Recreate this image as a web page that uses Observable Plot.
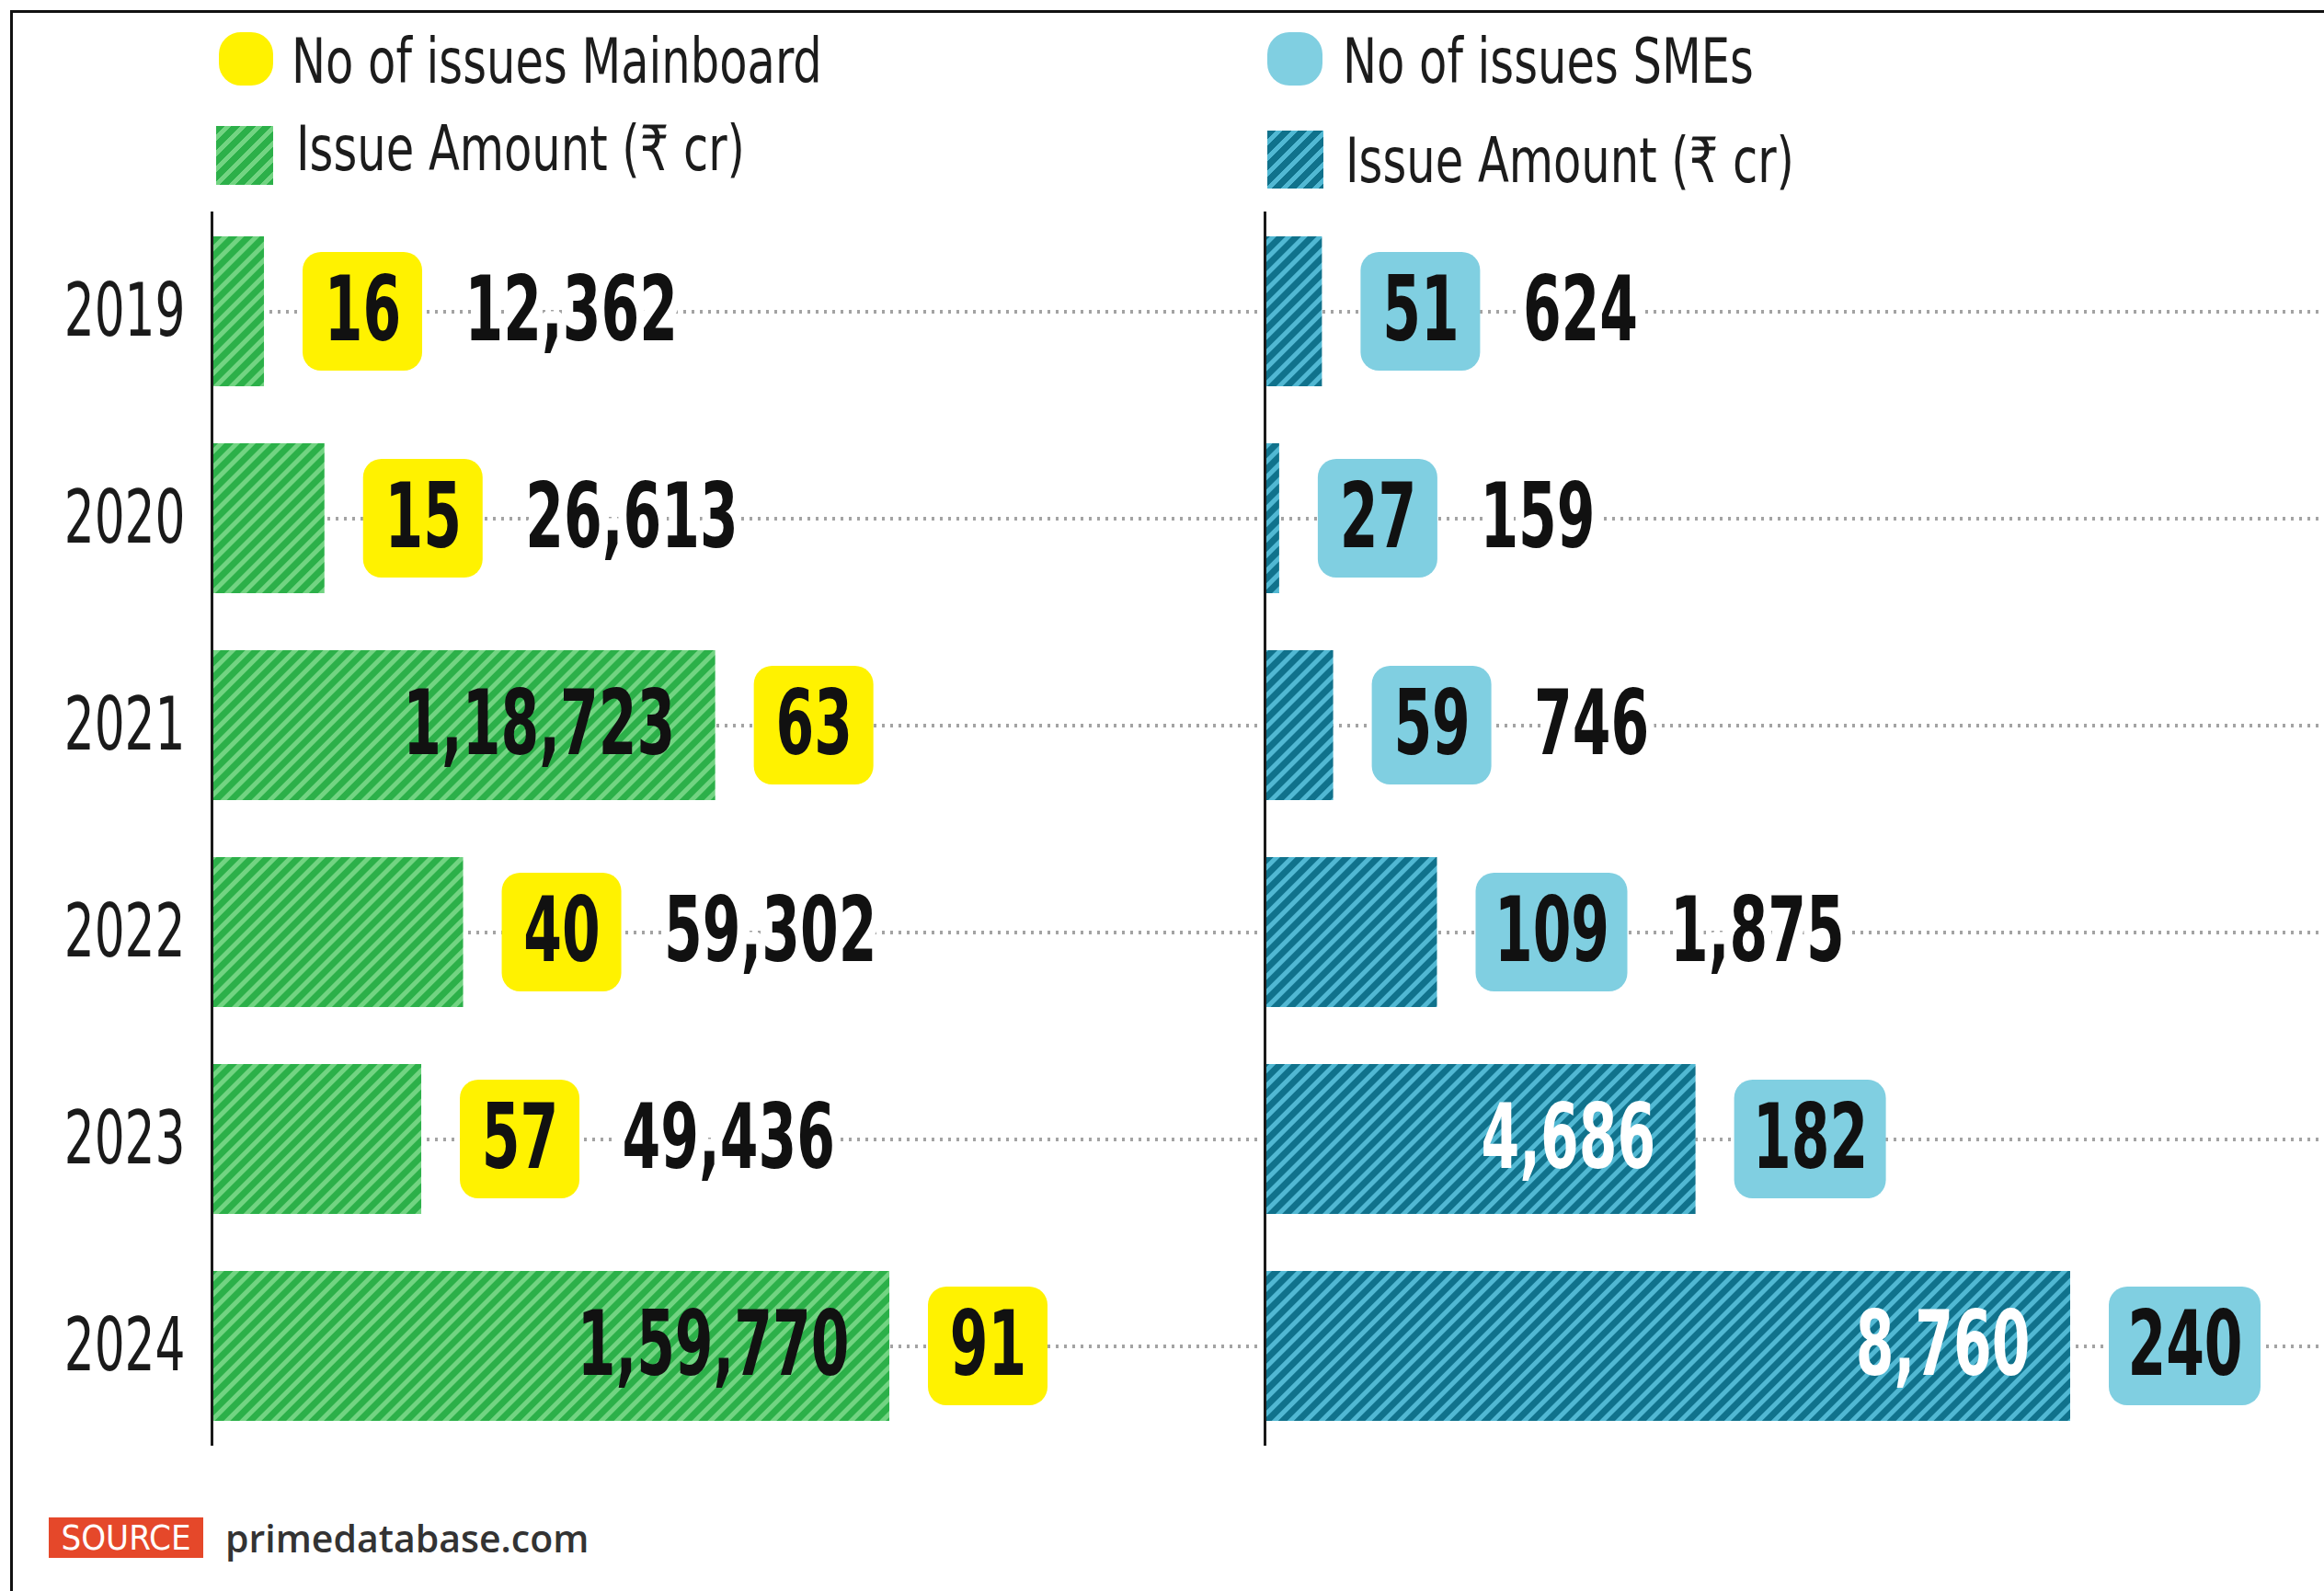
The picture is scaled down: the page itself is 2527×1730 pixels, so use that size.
<!DOCTYPE html>
<html><head><meta charset="utf-8">
<script src="https://cdn.jsdelivr.net/npm/d3@7"></script>
<script src="https://cdn.jsdelivr.net/npm/@observablehq/plot@0.6"></script>
<style>
html,body{margin:0;padding:0;background:#fff;}
#page{position:relative;width:2527px;height:1730px;background:#fff;overflow:hidden;font-family:"Liberation Sans Narrow","DejaVu Sans Condensed","Roboto",sans-serif;}
#frame{position:absolute;left:11px;top:11px;right:-10px;bottom:-10px;border-top:3px solid #111;border-left:3px solid #111;}
.sw{position:absolute;}
.lt{position:absolute;font-size:68px;line-height:68px;color:#1c1c1c;white-space:nowrap;transform:scaleX(0.81);transform-origin:left center;}
.chart{position:absolute;top:210px;}
#src{position:absolute;left:53px;top:1650px;height:44px;display:flex;align-items:center;}
#src .tag{background:#e5482a;color:#fff;font-size:38px;height:44px;width:168px;display:flex;align-items:center;justify-content:center;}
#src .site{margin-left:24px;font-family:"Open Sans",sans-serif;font-weight:600;font-size:41px;color:#333;}
</style></head>
<body>
<svg width="0" height="0" style="position:absolute">
  <defs>
    <pattern id="hatchG" width="12" height="12" patternUnits="userSpaceOnUse" patternTransform="rotate(45)">
      <rect width="12" height="12" fill="#2cb049"/><rect width="5" height="12" fill="#72d482"/>
    </pattern>
    <pattern id="hatchB" width="12" height="12" patternUnits="userSpaceOnUse" patternTransform="rotate(45)">
      <rect width="12" height="12" fill="#10728c"/><rect width="5" height="12" fill="#51b8d3"/>
    </pattern>
  </defs>
</svg>
<div id="page">
  <div id="frame"></div>
  <div class="sw" style="left:238px;top:35px;width:59px;height:58px;border-radius:24px;background:#fff200"></div>
  <div class="lt" style="left:317px;top:33px">No of issues Mainboard</div>
  <div class="sw" style="left:235px;top:137px;width:62px;height:64px;background:repeating-linear-gradient(135deg,#2cb049 0 7px,#72d482 7px 12px)"></div>
  <div class="lt" style="left:322px;top:128px">Issue Amount (₹ cr)</div>
  <div class="sw" style="left:1378px;top:35px;width:60px;height:58px;border-radius:24px;background:#80cfe1"></div>
  <div class="lt" style="left:1460px;top:33px">No of issues SMEs</div>
  <div class="sw" style="left:1378px;top:142px;width:61px;height:63px;background:repeating-linear-gradient(135deg,#10728c 0 7px,#51b8d3 7px 12px)"></div>
  <div class="lt" style="left:1463px;top:141px">Issue Amount (₹ cr)</div>
  <div class="chart" id="left" style="left:0px"></div>
  <div class="chart" id="right" style="left:1360px"></div>
  <div id="src"><span class="tag">SOURCE</span><span class="site">primedatabase.com</span></div>
</div>
<script>
const years = ["2019", "2020", "2021", "2022", "2023", "2024"];
const mainCount = [16, 15, 63, 40, 57, 91];
const mainAmount = [12362, 26613, 118723, 59302, 49436, 159770];
const smeCount = [51, 27, 59, 109, 182, 240];
const smeAmount = [624, 159, 746, 1875, 4686, 8760];

const FONT = '"Liberation Sans Narrow", "DejaVu Sans Condensed", "Roboto", sans-serif';

function inr(n) {
  const s = String(n);
  if (s.length <= 3) return s;
  const last3 = s.slice(-3);
  const rest = s.slice(0, -3).replace(/\B(?=(\d{2})+(?!\d))/g, ",");
  return rest + "," + last3;
}

function panel({counts, amounts, barFill, boxFill, insideColor, width, marginLeft, pxRange, showYears}) {
  const max = d3.max(amounts);
  const k = max / pxRange;
  const rows = years.map((y, i) => {
    const a = amounts[i], c = counts[i];
    const inside = a / k > 400;
    const boxW = 35 * String(c).length + 60;
    const bx1 = a + 42 * k, bx2 = a + (42 + boxW) * k;
    return {year: y, amount: a, count: c, label: inr(a), inside, bx1, bx2,
            bmid: (bx1 + bx2) / 2, lx: inside ? a - 44 * k : bx2 + 46 * k};
  });
  const marks = [
    Plot.ruleY(rows, {y: "year", stroke: "#a3a3a3", strokeWidth: 4, strokeDasharray: "3 6"}),
    Plot.barX(rows, {x1: 0, x2: "amount", y: "year", fill: barFill}),
    Plot.ruleX([0], {stroke: "#1a1a1a", strokeWidth: 3}),
    Plot.barX(rows, {x1: "bx1", x2: "bx2", y: "year", fill: boxFill, rx: 20, insetTop: 17, insetBottom: 17}),
    Plot.text(rows, {x: "bmid", y: "year", text: d => String(d.count), fontSize: 98, fontWeight: 700, fontFamily: FONT, fill: "#111"}),
    Plot.text(rows.filter(d => !d.inside), {x: "lx", y: "year", text: "label", textAnchor: "start", fontSize: 98, fontWeight: 700, fontFamily: FONT, fill: "#111", stroke: "white", strokeWidth: 26, paintOrder: "stroke"}),
    Plot.text(rows.filter(d => d.inside), {x: "lx", y: "year", text: "label", textAnchor: "end", fontSize: 98, fontWeight: 700, fontFamily: FONT, fill: insideColor})
  ];
  if (showYears) marks.push(Plot.axisY({tickSize: 0, tickPadding: 29, fontSize: 80, fontFamily: FONT, fill: "#1a1a1a"}));
  return Plot.plot({
    width, height: 1392,
    marginLeft, marginRight: 0, marginTop: 20, marginBottom: 30,
    x: {domain: [0, max], range: [marginLeft, marginLeft + pxRange], axis: null},
    y: {domain: years, paddingInner: 0.276, paddingOuter: 0.118, label: null, ...(showYears ? {} : {axis: null})},
    style: {background: "transparent", fontFamily: FONT, overflow: "visible"},
    marks
  });
}

// emulate the condensed typeface of the original: narrow each label horizontally about its own anchor point
function condense(svg) {
  const num = /^-?\d+(\.\d+)?$/;
  svg.querySelectorAll("text").forEach(t => {
    const g = t.closest("g[aria-label]");
    const isTick = g && /tick/.test(g.getAttribute("aria-label"));
    const f = isTick ? 0.72 : 0.68;
    let x = 0;
    const xa = t.getAttribute("x");
    if (xa != null && num.test(xa.trim())) { x = +xa; t.removeAttribute("x"); }
    const tr = t.getAttribute("transform") || "";
    t.setAttribute("transform", `${tr} translate(${x},0) scale(${f},1)`);
  });
}

const L = panel({
  counts: mainCount, amounts: mainAmount, barFill: "url(#hatchG)", boxFill: "#fff200",
  insideColor: "#111", width: 1372, marginLeft: 230, pxRange: 737, showYears: true
});
const R = panel({
  counts: smeCount, amounts: smeAmount, barFill: "url(#hatchB)", boxFill: "#80cfe1",
  insideColor: "#fff", width: 1167, marginLeft: 15, pxRange: 876, showYears: false
});
condense(L);
condense(R);
document.getElementById("left").append(L);
document.getElementById("right").append(R);
</script>
</body></html>
